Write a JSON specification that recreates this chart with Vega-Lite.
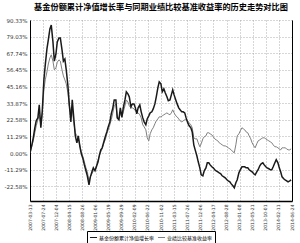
{
  "$schema": "https://vega.github.io/schema/vega-lite/v6.json",
  "autosize": "none",
  "width": 262,
  "height": 181,
  "padding": {"left": 30, "top": 20, "right": 8, "bottom": 42},
  "background": "#ffffff",
  "title": {
    "text": "基金份额累计净值增长率与同期业绩比较基准收益率的历史走势对比图",
    "font": "Noto Sans CJK SC",
    "fontSize": 8.2,
    "fontWeight": "bold",
    "color": "#000000",
    "anchor": "middle",
    "offset": 6
  },
  "config": {
    "view": {"stroke": null},
    "axis": {
      "labelFont": "DejaVu Sans",
      "labelColor": "#333333",
      "domainColor": "#000000",
      "gridColor": "#999999",
      "gridDash": [1, 2],
      "gridWidth": 0.8,
      "ticks": false
    },
    "legend": {
      "labelFont": "Noto Sans CJK SC",
      "labelFontSize": 5,
      "labelColor": "#000000"
    }
  },
  "data": {
    "values": [
      {"d": "2007-03-13", "fund": 0, "bench": 0},
      {"d": "2007-04-01", "fund": 5.6, "bench": 4.9},
      {"d": "2007-04-15", "fund": 10.4, "bench": 8.3},
      {"d": "2007-05-01", "fund": 17.2, "bench": 13.8},
      {"d": "2007-05-15", "fund": 21.9, "bench": 18.5},
      {"d": "2007-06-01", "fund": 23.9, "bench": 22.6},
      {"d": "2007-06-15", "fund": 32.7, "bench": 26.0},
      {"d": "2007-07-01", "fund": 17.2, "bench": 19.2},
      {"d": "2007-07-15", "fund": 28.1, "bench": 26.0},
      {"d": "2007-08-01", "fund": 49.7, "bench": 42.9},
      {"d": "2007-08-15", "fund": 59.9, "bench": 49.7},
      {"d": "2007-09-01", "fund": 70.7, "bench": 55.1},
      {"d": "2007-09-15", "fund": 76.8, "bench": 60.5},
      {"d": "2007-10-01", "fund": 84.3, "bench": 64.6},
      {"d": "2007-10-15", "fund": 86.9, "bench": 66.7},
      {"d": "2007-11-01", "fund": 75.5, "bench": 62.4},
      {"d": "2007-11-15", "fund": 62.4, "bench": 56.5},
      {"d": "2007-12-01", "fund": 67.1, "bench": 57.8},
      {"d": "2007-12-15", "fund": 75.5, "bench": 61.7},
      {"d": "2008-01-01", "fund": 78.2, "bench": 63.3},
      {"d": "2008-01-15", "fund": 78.2, "bench": 62.4},
      {"d": "2008-02-01", "fund": 70.0, "bench": 56.5},
      {"d": "2008-02-15", "fund": 62.4, "bench": 52.4},
      {"d": "2008-03-01", "fund": 63.8, "bench": 49.7},
      {"d": "2008-03-15", "fund": 56.5, "bench": 47.0},
      {"d": "2008-04-01", "fund": 45.6, "bench": 40.9},
      {"d": "2008-04-15", "fund": 32.7, "bench": 32.1},
      {"d": "2008-05-01", "fund": 21.2, "bench": 28.0},
      {"d": "2008-05-15", "fund": 36.1, "bench": 29.4},
      {"d": "2008-06-01", "fund": 22.6, "bench": 19.9},
      {"d": "2008-06-15", "fund": 11.7, "bench": 13.8},
      {"d": "2008-07-01", "fund": 7.0, "bench": 11.7},
      {"d": "2008-07-15", "fund": 11.7, "bench": 10.4},
      {"d": "2008-08-01", "fund": 4.3, "bench": 4.9},
      {"d": "2008-08-15", "fund": -0.5, "bench": 0.9},
      {"d": "2008-09-01", "fund": -3.9, "bench": -2.5},
      {"d": "2008-09-15", "fund": -8.0, "bench": -5.9},
      {"d": "2008-10-01", "fund": -12.0, "bench": -10.0},
      {"d": "2008-10-15", "fund": -15.4, "bench": -12.7},
      {"d": "2008-11-01", "fund": -21.5, "bench": -18.8},
      {"d": "2008-11-15", "fund": -16.1, "bench": -16.1},
      {"d": "2008-12-01", "fund": -12.7, "bench": -14.0},
      {"d": "2008-12-15", "fund": -10.0, "bench": -12.0},
      {"d": "2009-01-01", "fund": -12.0, "bench": -11.3},
      {"d": "2009-01-15", "fund": -9.3, "bench": -8.6},
      {"d": "2009-02-01", "fund": -5.9, "bench": -4.5},
      {"d": "2009-02-15", "fund": -1.2, "bench": -1.8},
      {"d": "2009-03-01", "fund": 2.2, "bench": 0.9},
      {"d": "2009-03-15", "fund": 3.6, "bench": 2.9},
      {"d": "2009-04-01", "fund": 7.7, "bench": 7.0},
      {"d": "2009-04-15", "fund": 11.1, "bench": 9.0},
      {"d": "2009-05-01", "fund": 14.4, "bench": 13.1},
      {"d": "2009-05-15", "fund": 17.8, "bench": 15.8},
      {"d": "2009-06-01", "fund": 21.2, "bench": 19.2},
      {"d": "2009-06-15", "fund": 26.6, "bench": 22.6},
      {"d": "2009-07-01", "fund": 30.7, "bench": 27.3},
      {"d": "2009-07-15", "fund": 36.1, "bench": 32.1},
      {"d": "2009-08-01", "fund": 36.1, "bench": 33.4},
      {"d": "2009-08-15", "fund": 23.9, "bench": 23.9},
      {"d": "2009-09-01", "fund": 22.6, "bench": 23.9},
      {"d": "2009-09-15", "fund": 30.7, "bench": 27.3},
      {"d": "2009-10-01", "fund": 24.6, "bench": 23.9},
      {"d": "2009-10-15", "fund": 30.7, "bench": 28.0},
      {"d": "2009-11-01", "fund": 36.1, "bench": 32.1},
      {"d": "2009-11-15", "fund": 41.6, "bench": 36.1},
      {"d": "2009-12-01", "fund": 40.2, "bench": 34.7},
      {"d": "2009-12-15", "fund": 38.2, "bench": 32.1},
      {"d": "2010-01-01", "fund": 31.4, "bench": 30.7},
      {"d": "2010-01-15", "fund": 33.4, "bench": 30.7},
      {"d": "2010-02-01", "fund": 33.4, "bench": 30.0},
      {"d": "2010-02-15", "fund": 30.7, "bench": 28.7},
      {"d": "2010-03-01", "fund": 26.6, "bench": 28.0},
      {"d": "2010-03-15", "fund": 30.7, "bench": 27.3},
      {"d": "2010-04-01", "fund": 32.7, "bench": 26.0},
      {"d": "2010-04-15", "fund": 28.0, "bench": 23.9},
      {"d": "2010-05-01", "fund": 23.9, "bench": 19.2},
      {"d": "2010-05-15", "fund": 21.2, "bench": 17.8},
      {"d": "2010-06-01", "fund": 19.2, "bench": 15.8},
      {"d": "2010-06-15", "fund": 23.2, "bench": 10.4},
      {"d": "2010-07-01", "fund": 25.3, "bench": 8.3},
      {"d": "2010-07-15", "fund": 27.3, "bench": 13.1},
      {"d": "2010-08-01", "fund": 28.0, "bench": 15.8},
      {"d": "2010-08-15", "fund": 30.0, "bench": 17.2},
      {"d": "2010-09-01", "fund": 33.4, "bench": 19.9},
      {"d": "2010-09-15", "fund": 38.2, "bench": 21.9},
      {"d": "2010-10-01", "fund": 44.3, "bench": 23.2},
      {"d": "2010-10-15", "fund": 48.3, "bench": 24.6},
      {"d": "2010-11-01", "fund": 47.0, "bench": 24.6},
      {"d": "2010-11-15", "fund": 41.6, "bench": 25.3},
      {"d": "2010-12-01", "fund": 43.6, "bench": 26.0},
      {"d": "2010-12-15", "fund": 40.9, "bench": 26.6},
      {"d": "2011-01-01", "fund": 38.2, "bench": 27.3},
      {"d": "2011-01-15", "fund": 35.5, "bench": 26.6},
      {"d": "2011-02-01", "fund": 36.1, "bench": 26.0},
      {"d": "2011-02-15", "fund": 39.5, "bench": 27.3},
      {"d": "2011-03-01", "fund": 42.9, "bench": 29.4},
      {"d": "2011-03-15", "fund": 39.5, "bench": 27.3},
      {"d": "2011-04-01", "fund": 36.1, "bench": 25.3},
      {"d": "2011-04-15", "fund": 33.4, "bench": 24.6},
      {"d": "2011-05-01", "fund": 30.7, "bench": 23.2},
      {"d": "2011-05-15", "fund": 29.4, "bench": 21.9},
      {"d": "2011-06-01", "fund": 28.0, "bench": 21.2},
      {"d": "2011-06-15", "fund": 28.0, "bench": 21.9},
      {"d": "2011-07-01", "fund": 27.3, "bench": 22.6},
      {"d": "2011-07-15", "fund": 23.9, "bench": 22.6},
      {"d": "2011-08-01", "fund": 20.5, "bench": 21.9},
      {"d": "2011-08-15", "fund": 18.5, "bench": 20.5},
      {"d": "2011-09-01", "fund": 17.2, "bench": 19.2},
      {"d": "2011-09-15", "fund": 14.4, "bench": 17.2},
      {"d": "2011-10-01", "fund": 5.6, "bench": 10.4},
      {"d": "2011-10-15", "fund": 2.2, "bench": 9.7},
      {"d": "2011-11-01", "fund": -1.8, "bench": 9.7},
      {"d": "2011-11-15", "fund": -5.9, "bench": 7.0},
      {"d": "2011-12-01", "fund": -10.0, "bench": 4.3},
      {"d": "2011-12-15", "fund": -14.7, "bench": 6.3},
      {"d": "2012-01-01", "fund": -15.4, "bench": 9.7},
      {"d": "2012-01-15", "fund": -12.0, "bench": 11.1},
      {"d": "2012-02-01", "fund": -10.0, "bench": 11.7},
      {"d": "2012-02-15", "fund": -6.6, "bench": 13.8},
      {"d": "2012-03-01", "fund": -6.6, "bench": 13.8},
      {"d": "2012-03-15", "fund": -8.0, "bench": 13.1},
      {"d": "2012-04-01", "fund": -9.3, "bench": 12.4},
      {"d": "2012-04-15", "fund": -10.0, "bench": 11.1},
      {"d": "2012-05-01", "fund": -11.3, "bench": 9.7},
      {"d": "2012-05-15", "fund": -12.0, "bench": 9.0},
      {"d": "2012-06-01", "fund": -12.7, "bench": 8.3},
      {"d": "2012-06-15", "fund": -13.4, "bench": 7.0},
      {"d": "2012-07-01", "fund": -14.0, "bench": 6.3},
      {"d": "2012-07-15", "fund": -15.4, "bench": 5.6},
      {"d": "2012-08-01", "fund": -16.1, "bench": 4.9},
      {"d": "2012-08-15", "fund": -16.8, "bench": 4.9},
      {"d": "2012-09-01", "fund": -18.1, "bench": 4.3},
      {"d": "2012-09-15", "fund": -18.8, "bench": 3.6},
      {"d": "2012-10-01", "fund": -19.5, "bench": 2.9},
      {"d": "2012-10-15", "fund": -20.9, "bench": 2.2},
      {"d": "2012-11-01", "fund": -22.2, "bench": 0.9},
      {"d": "2012-11-15", "fund": -23.5, "bench": 0.2},
      {"d": "2012-12-01", "fund": -20.1, "bench": 5.6},
      {"d": "2012-12-15", "fund": -18.1, "bench": 11.7},
      {"d": "2013-01-01", "fund": -13.4, "bench": 13.1},
      {"d": "2013-01-15", "fund": -11.3, "bench": 15.1},
      {"d": "2013-02-01", "fund": -9.3, "bench": 17.2},
      {"d": "2013-02-15", "fund": -9.3, "bench": 16.5},
      {"d": "2013-03-01", "fund": -9.3, "bench": 15.8},
      {"d": "2013-03-15", "fund": -10.0, "bench": 14.4},
      {"d": "2013-04-01", "fund": -10.0, "bench": 13.8},
      {"d": "2013-04-15", "fund": -11.3, "bench": 11.7},
      {"d": "2013-05-01", "fund": -12.0, "bench": 9.7},
      {"d": "2013-05-15", "fund": -12.7, "bench": 7.0},
      {"d": "2013-06-01", "fund": -14.0, "bench": 4.9},
      {"d": "2013-06-15", "fund": -14.7, "bench": 3.6},
      {"d": "2013-07-01", "fund": -12.7, "bench": 6.3},
      {"d": "2013-07-15", "fund": -11.3, "bench": 8.3},
      {"d": "2013-08-01", "fund": -8.6, "bench": 9.0},
      {"d": "2013-08-15", "fund": -7.3, "bench": 9.7},
      {"d": "2013-09-01", "fund": -6.6, "bench": 10.4},
      {"d": "2013-09-15", "fund": -8.0, "bench": 10.4},
      {"d": "2013-10-01", "fund": -9.3, "bench": 9.7},
      {"d": "2013-10-15", "fund": -10.0, "bench": 9.0},
      {"d": "2013-11-01", "fund": -10.6, "bench": 8.3},
      {"d": "2013-11-15", "fund": -11.3, "bench": 7.7},
      {"d": "2013-12-01", "fund": -11.3, "bench": 7.0},
      {"d": "2013-12-15", "fund": -9.3, "bench": 5.6},
      {"d": "2014-01-01", "fund": -6.6, "bench": 4.3},
      {"d": "2014-01-15", "fund": -4.5, "bench": 4.3},
      {"d": "2014-02-01", "fund": -6.6, "bench": 3.6},
      {"d": "2014-02-15", "fund": -10.0, "bench": 2.9},
      {"d": "2014-03-01", "fund": -12.7, "bench": 2.2},
      {"d": "2014-03-15", "fund": -16.1, "bench": 3.6},
      {"d": "2014-04-01", "fund": -17.4, "bench": 3.6},
      {"d": "2014-04-15", "fund": -18.1, "bench": 3.6},
      {"d": "2014-05-01", "fund": -18.8, "bench": 2.9},
      {"d": "2014-05-15", "fund": -19.5, "bench": 2.2},
      {"d": "2014-06-01", "fund": -18.8, "bench": 2.2},
      {"d": "2014-06-15", "fund": -18.1, "bench": 2.9}
    ]
  },
  "encoding": {
    "x": {
      "field": "d",
      "type": "temporal",
      "scale": {
        "type": "utc",
        "domain": [
          {"year": 2007, "month": 3, "date": 13, "utc": true},
          {"year": 2014, "month": 6, "date": 24, "utc": true}
        ]
      },
      "axis": {
        "title": null,
        "format": "%Y-%m-%d",
        "labelAngle": -90,
        "labelFontSize": 4.5,
        "labelPadding": 3,
        "grid": true,
        "domainWidth": 1.5,
        "values": [
          {"year": 2007, "month": 3, "date": 13, "utc": true},
          {"year": 2007, "month": 7, "date": 24, "utc": true},
          {"year": 2007, "month": 12, "date": 4, "utc": true},
          {"year": 2008, "month": 4, "date": 15, "utc": true},
          {"year": 2008, "month": 8, "date": 26, "utc": true},
          {"year": 2009, "month": 1, "date": 6, "utc": true},
          {"year": 2009, "month": 5, "date": 19, "utc": true},
          {"year": 2009, "month": 9, "date": 29, "utc": true},
          {"year": 2010, "month": 2, "date": 9, "utc": true},
          {"year": 2010, "month": 6, "date": 22, "utc": true},
          {"year": 2010, "month": 11, "date": 2, "utc": true},
          {"year": 2011, "month": 3, "date": 15, "utc": true},
          {"year": 2011, "month": 7, "date": 26, "utc": true},
          {"year": 2011, "month": 12, "date": 6, "utc": true},
          {"year": 2012, "month": 4, "date": 17, "utc": true},
          {"year": 2012, "month": 8, "date": 28, "utc": true},
          {"year": 2013, "month": 1, "date": 8, "utc": true},
          {"year": 2013, "month": 5, "date": 21, "utc": true},
          {"year": 2013, "month": 10, "date": 1, "utc": true},
          {"year": 2014, "month": 2, "date": 11, "utc": true},
          {"year": 2014, "month": 6, "date": 24, "utc": true}
        ]
      }
    },
    "color": {
      "scale": {
        "domain": ["基金份额累计净值增长率", "业绩比较基准收益率"],
        "range": ["#1a1a1a", "#808080"]
      },
      "legend": {
        "title": null,
        "orient": "none",
        "legendX": 57,
        "legendY": 211,
        "direction": "horizontal",
        "gridAlign": "none",
        "symbolType": "stroke",
        "symbolSize": 50,
        "symbolStrokeWidth": 1,
        "strokeColor": "#000000",
        "padding": 2,
        "columnPadding": 0,
        "labelOffset": 1,
        "fillColor": "#ffffff"
      }
    }
  },
  "layer": [
    {
      "mark": {"type": "line", "strokeWidth": 1, "clip": true},
      "encoding": {
        "y": {
          "field": "bench",
          "type": "quantitative",
          "scale": {"domain": [-32.5, 90.33], "nice": false, "zero": false},
          "axis": {
            "title": null,
            "values": [-22.58, -11.29, 0, 11.29, 22.58, 33.87, 45.16, 56.45, 67.74, 79.03, 90.33],
            "labelExpr": "datum.value === 0 ? '0.00%' : datum.value + '%'",
            "labelFontSize": 5.5,
            "labelPadding": 3,
            "grid": true
          }
        },
        "color": {"datum": "业绩比较基准收益率"}
      }
    },
    {
      "mark": {"type": "line", "strokeWidth": 1.5, "clip": true},
      "encoding": {
        "y": {
          "field": "fund",
          "type": "quantitative",
          "axis": {
            "orient": "right",
            "title": null,
            "labels": false,
            "grid": false,
            "domain": true
          }
        },
        "color": {"datum": "基金份额累计净值增长率"}
      }
    }
  ],
  "resolve": {"axis": {"y": "independent"}}
}
